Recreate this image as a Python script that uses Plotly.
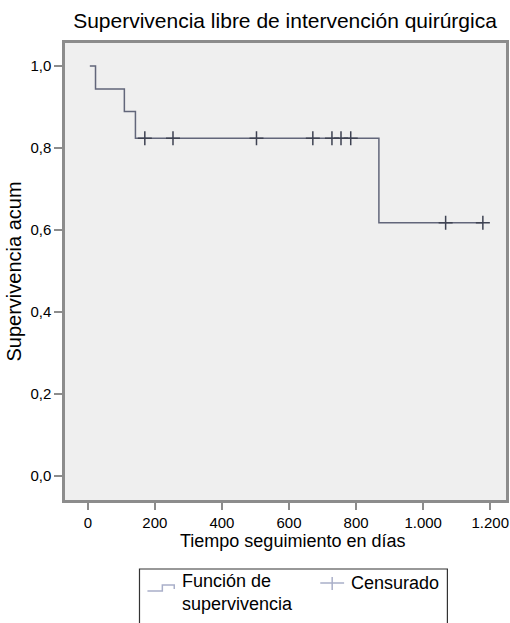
import plotly.graph_objects as go

# Kaplan-Meier step curve (time in days, cumulative survival)
step_times = [6, 23, 23, 109, 109, 142, 142, 868, 868, 1178]
step_surv = [1.0, 1.0, 0.944, 0.944, 0.889, 0.889, 0.824, 0.824, 0.618, 0.618]

# Censored observations
cens_times = [170, 254, 503, 671, 728, 755, 784, 1067, 1178]
cens_surv = [0.824, 0.824, 0.824, 0.824, 0.824, 0.824, 0.824, 0.618, 0.618]

x_ticks = [0, 200, 400, 600, 800, 1000, 1200]
y_ticks = [0.0, 0.2, 0.4, 0.6, 0.8, 1.0]

legend_labels = ["Función de<br>supervivencia", "Censurado"]

FONT = "Liberation Sans, Arial, Helvetica, sans-serif"
LINE_COL = "#62667a"
CENS_COL = "#3e4252"
AXIS_COL = "#8c8c8c"
ICON_COL = "#a9afc9"

W, H = 510, 623
L, R, T, B = 65, 1, 43, 123
PW, PH = W - L - R, H - T - B


def px(x):
    return (x - L) / PW


def py(y):
    return (H - B - y) / PH


fig = go.Figure()
fig.add_trace(go.Scatter(
    x=step_times, y=step_surv, mode="lines",
    line=dict(color=LINE_COL, width=1.5),
    name=legend_labels[0], showlegend=False,
))
fig.add_trace(go.Scatter(
    x=cens_times, y=cens_surv, mode="markers",
    marker=dict(symbol="cross-thin", size=10, line=dict(color=CENS_COL, width=1.5)),
    name=legend_labels[1], showlegend=False,
))

shapes = [
    # legend frame (runs off the bottom of the page, as in the reference)
    dict(type="rect", xref="paper", yref="paper", x0=px(140), x1=px(450),
         y0=py(680), y1=py(569), line=dict(color="#333333", width=1.2),
         fillcolor="rgba(0,0,0,0)", layer="above"),
    # step icon
    dict(type="path", xref="paper", yref="paper",
         path=(f"M {px(148)} {py(591)} L {px(163)} {py(591)} L {px(163)} {py(585)} "
               f"L {px(175)} {py(585)} L {px(175)} {py(589)}"),
         line=dict(color=ICON_COL, width=1.5), layer="above"),
    # cross icon
    dict(type="line", xref="paper", yref="paper", x0=px(322), x1=px(346),
         y0=py(583), y1=py(583), line=dict(color=ICON_COL, width=1.5), layer="above"),
    dict(type="line", xref="paper", yref="paper", x0=px(334), x1=px(334),
         y0=py(577), y1=py(590), line=dict(color=ICON_COL, width=1.5), layer="above"),
]

annotations = [
    dict(text=legend_labels[0], xref="paper", yref="paper", x=px(181), y=py(569),
         xanchor="left", yanchor="top", align="left", showarrow=False,
         font=dict(size=18, family=FONT, color="black")),
    dict(text=legend_labels[1], xref="paper", yref="paper", x=px(351), y=py(583),
         xanchor="left", yanchor="middle", align="left", showarrow=False,
         font=dict(size=18, family=FONT, color="black")),
    # x-axis title, placed as in the reference (slightly right of plot centre)
    dict(text="Tiempo seguimiento en días", xref="paper", yref="paper",
         x=px(294), y=py(541), xanchor="center", yanchor="middle",
         showarrow=False, font=dict(size=18, family=FONT, color="black")),
]

fig.update_layout(
    width=W, height=H,
    margin=dict(l=L, r=R, t=T, b=B),
    paper_bgcolor="white",
    plot_bgcolor="#efefef",
    separators=",.",
    font=dict(family=FONT, size=15, color="black"),
    title=dict(text="Supervivencia libre de intervención quirúrgica",
               x=285 / W, xanchor="center", y=1 - 21 / H, yanchor="middle",
               font=dict(size=21, family=FONT)),
    showlegend=False,
    shapes=shapes,
    annotations=annotations,
)
fig.update_xaxes(
    range=[-68, 1247], tickvals=x_ticks, tickformat=",d",
    showgrid=False, zeroline=False,
    showline=True, linecolor=AXIS_COL, linewidth=2.5, mirror=True,
    ticks="outside", ticklen=7, tickwidth=2, tickcolor=AXIS_COL,
)
fig.update_yaxes(
    range=[-0.058, 1.056], tickvals=y_ticks, tickformat=".1f",
    showgrid=False, zeroline=False,
    showline=True, linecolor=AXIS_COL, linewidth=2.5, mirror=True,
    ticks="outside", ticklen=8, tickwidth=2, tickcolor=AXIS_COL,
    title=dict(text="Supervivencia acum", font=dict(size=20), standoff=4),
)

fig.write_html("out.html", config={"displayModeBar": False},
               post_script="document.body.style.margin='0';")
